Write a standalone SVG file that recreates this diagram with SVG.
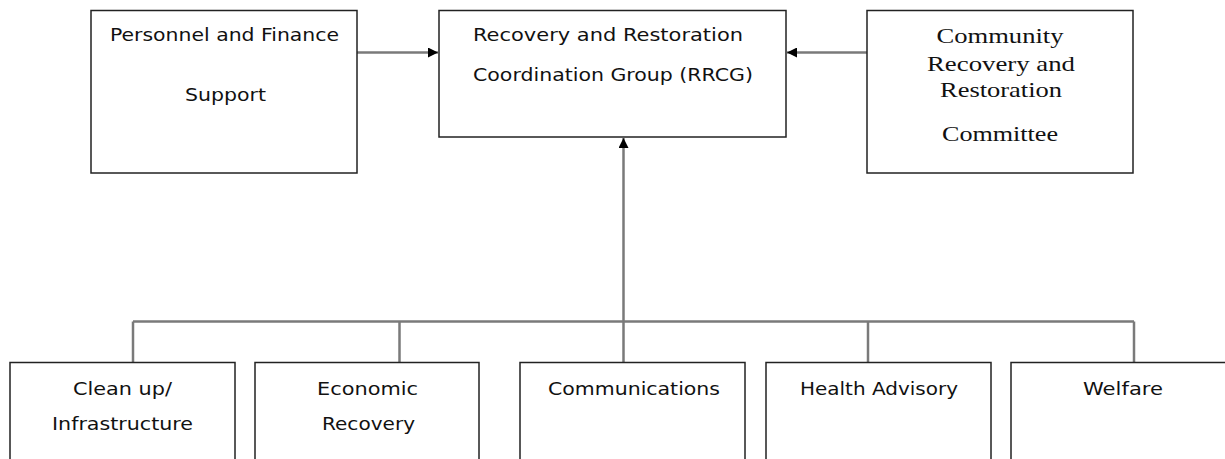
<svg xmlns="http://www.w3.org/2000/svg" width="1225" height="459" viewBox="0 0 1225 459">
<defs>
<style>
.box{fill:#fff;stroke:#222;stroke-width:1.5}
.conn{fill:none;stroke:#7a7a7a;stroke-width:2.5}
.t{font-family:"DejaVu Sans",Verdana,sans-serif;font-size:17px;fill:#111;text-anchor:middle}
.s{font-family:"Liberation Serif","Times New Roman",serif;font-size:21px;fill:#111;text-anchor:middle}
</style>
<marker id="ah" viewBox="0 0 10 10" refX="10" refY="5" markerWidth="10" markerHeight="10" markerUnits="userSpaceOnUse" orient="auto">
<path d="M0,0 L10,5 L0,10 Z" fill="#000"/>
</marker>
</defs>
<rect width="1225" height="459" fill="#fff"/>
<g id="connectors">
<line class="conn" x1="357" y1="52.5" x2="438" y2="52.5" marker-end="url(#ah)"/>
<line class="conn" x1="867" y1="52.5" x2="787" y2="52.5" marker-end="url(#ah)"/>
<line class="conn" x1="623.5" y1="362" x2="623.5" y2="138" marker-end="url(#ah)"/>
<line class="conn" x1="133" y1="321.5" x2="1134" y2="321.5"/>
<line class="conn" x1="133" y1="321.5" x2="133" y2="362"/>
<line class="conn" x1="399.5" y1="321.5" x2="399.5" y2="362"/>
<line class="conn" x1="868" y1="321.5" x2="868" y2="362"/>
<line class="conn" x1="1134" y1="321.5" x2="1134" y2="362"/>
</g>
<g id="personnel">
<rect class="box" x="91" y="10.5" width="266" height="162.5"/>
<text class="t" x="224.5" y="41" textLength="229" lengthAdjust="spacingAndGlyphs">Personnel and Finance</text>
<text class="t" x="225.5" y="101" textLength="81" lengthAdjust="spacingAndGlyphs">Support</text>
</g>
<g id="rrcg">
<rect class="box" x="439" y="10.5" width="347" height="126.5"/>
<text class="t" x="608" y="41" textLength="270" lengthAdjust="spacingAndGlyphs">Recovery and Restoration</text>
<text class="t" x="613" y="81" textLength="280" lengthAdjust="spacingAndGlyphs">Coordination Group (RRCG)</text>
</g>
<g id="community">
<rect class="box" x="867" y="10.5" width="266" height="162.5"/>
<text class="s" x="1000" y="43" textLength="127" lengthAdjust="spacingAndGlyphs">Community</text>
<text class="s" x="1001" y="71" textLength="148" lengthAdjust="spacingAndGlyphs">Recovery and</text>
<text class="s" x="1001" y="97" textLength="122" lengthAdjust="spacingAndGlyphs">Restoration</text>
<text class="s" x="1000" y="141" textLength="116" lengthAdjust="spacingAndGlyphs">Committee</text>
</g>
<g id="cleanup">
<rect class="box" x="10" y="362.5" width="225" height="110"/>
<text class="t" x="122.5" y="395" textLength="99" lengthAdjust="spacingAndGlyphs">Clean up/</text>
<text class="t" x="122.5" y="430" textLength="141" lengthAdjust="spacingAndGlyphs">Infrastructure</text>
</g>
<g id="economic">
<rect class="box" x="255" y="362.5" width="224" height="110"/>
<text class="t" x="367.5" y="395" textLength="101" lengthAdjust="spacingAndGlyphs">Economic</text>
<text class="t" x="368.5" y="430" textLength="93" lengthAdjust="spacingAndGlyphs">Recovery</text>
</g>
<g id="communications">
<rect class="box" x="520" y="362.5" width="225" height="110"/>
<text class="t" x="634" y="395" textLength="172" lengthAdjust="spacingAndGlyphs">Communications</text>
</g>
<g id="health">
<rect class="box" x="766" y="362.5" width="225" height="110"/>
<text class="t" x="879" y="395" textLength="158" lengthAdjust="spacingAndGlyphs">Health Advisory</text>
</g>
<g id="welfare">
<rect class="box" x="1011" y="362.5" width="225" height="110"/>
<text class="t" x="1123" y="395" textLength="80" lengthAdjust="spacingAndGlyphs">Welfare</text>
</g>
</svg>
